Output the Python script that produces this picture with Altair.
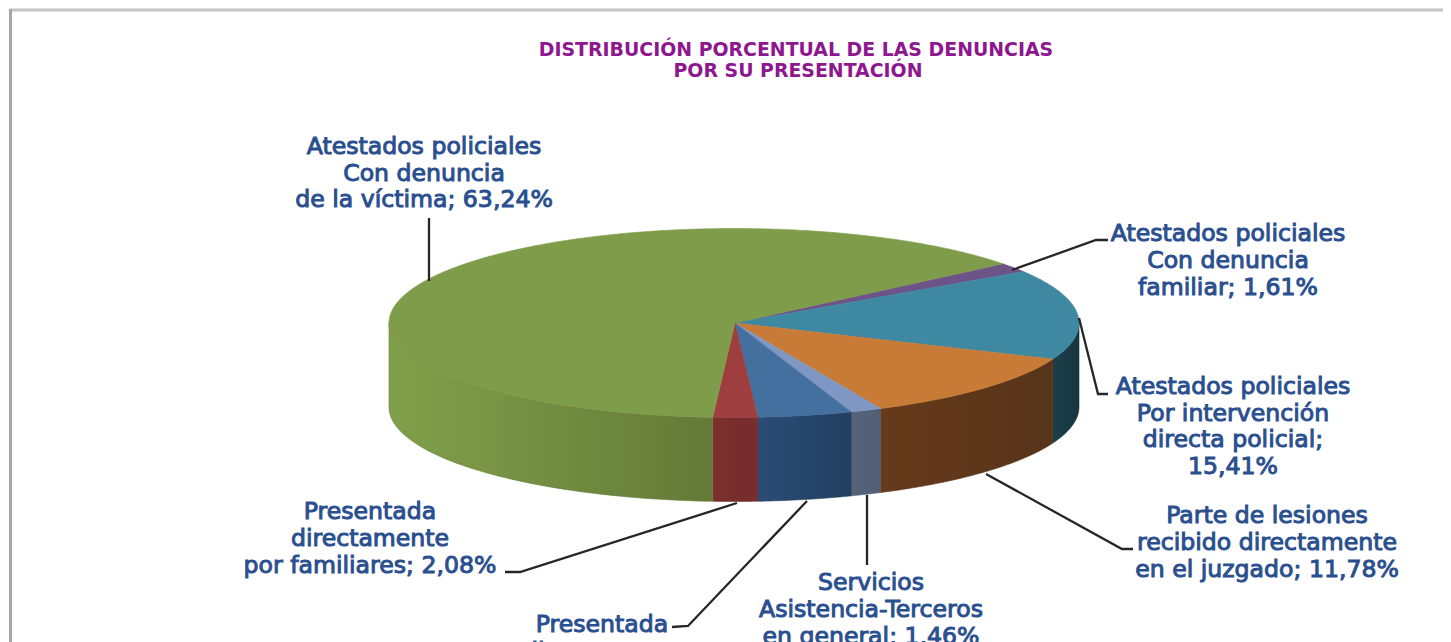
import numpy as np
import pandas as pd
import altair as alt

# Slices clockwise, starting at the top-right edge of the green slice
names = ["Familiar", "Intervencion", "Lesiones", "Terceros", "Victima directa", "Familiares directa", "Victima"]
shares = [1.61, 15.41, 11.78, 1.46, 4.42, 2.08, 63.24]
top_colors = ["#6E5388", "#3E89A1", "#C87B36", "#7F98C3", "#44709F", "#9E3E3E", "#7F9C4A"]
side_left = ["#4A3660", "#1C3F4C", "#663A1A", "#566379", "#2B4C75", "#7C2E2E", "#81A04A"]
side_right = ["#4A3660", "#17363F", "#57341A", "#525E75", "#223F60", "#752D2D", "#647A38"]

start_angle = 38.8
cx, cy, rx, ry, depth = 734.0, 323.0, 345.0, 94.5, 84.0

label_texts = [
    "Atestados policiales", "Con denuncia", "de la víctima; 63,24%",
    "Atestados policiales", "Con denuncia", "familiar; 1,61%",
    "Atestados policiales", "Por intervención", "directa policial;", "15,41%",
    "Parte de lesiones", "recibido directamente", "en el juzgado; 11,78%",
    "Servicios", "Asistencia-Terceros", "en general; 1,46%",
    "Presentada", "directamente", "por familiares; 2,08%",
    "Presentada", "directamente",
]
label_x = [424]*3 + [1228]*3 + [1233]*4 + [1267]*3 + [871]*3 + [370]*3 + [602]*2
label_y = [147, 174, 200, 234, 261, 288, 387, 414, 440, 467, 516, 543, 570,
           583, 610, 637, 512, 539, 566, 625, 652]

title_lines = ["DISTRIBUCIÓN PORCENTUAL DE LAS DENUNCIAS", "POR SU PRESENTACIÓN"]
title_x = [796, 798]
title_y = [50, 71]

leaders = [
    [(429, 218), (429, 281)],
    [(1012, 270), (1096, 240), (1108, 240)],
    [(1079, 318), (1098, 394), (1108, 394)],
    [(986, 474), (1122, 549), (1133, 549)],
    [(867, 495), (867, 565)],
    [(737, 503), (520, 572), (505, 572)],
    [(807, 501), (688, 626), (672, 627)],
]

W, H = 1435, 634
xs = alt.Scale(domain=[8, 8 + W], range=[0, W], nice=False, zero=False)
ys = alt.Scale(domain=[8, 8 + H], range=[0, H], nice=False, zero=False)
X = lambda f="x": alt.X(f"{f}:Q", scale=xs, axis=None)
Y = lambda f="y": alt.Y(f"{f}:Q", scale=ys, axis=None)


def ell(a, off=0.0):
    r = np.radians(a)
    return cx + rx * np.cos(r), cy - ry * np.sin(r) + off


def poly(points, fill, stroke):
    df = pd.DataFrame([{"x": float(p[0]), "y": float(p[1]), "i": i} for i, p in enumerate(points)])
    return alt.Chart(df).mark_line(fill=fill, stroke=stroke, strokeWidth=0.6).encode(
        x=X(), y=Y(), order=alt.Order("i:Q"))


edges = start_angle - np.cumsum([0] + [s * 3.6 for s in shares])
layers = []

# frame
frame = pd.DataFrame({"x": [10.5, 1443], "y": [10, 10]})
layers.append(alt.Chart(frame).mark_line(stroke="#C4C4C4", strokeWidth=3).encode(x=X(), y=Y()))
frame2 = pd.DataFrame({"x": [10.5, 10.5], "y": [9, 642]})
layers.append(alt.Chart(frame2).mark_line(stroke="#A6A6A6", strokeWidth=3).encode(x=X(), y=Y()))

# side walls
for k in range(len(shares)):
    a0, a1 = edges[k], edges[k + 1]
    lo, hi = max(a1, -180.0), min(a0, 0.0)
    if hi <= lo:
        continue
    aa = np.linspace(hi, lo, 60)
    pts = [ell(a) for a in aa] + [ell(a, depth) for a in aa[::-1]]
    pts.append(pts[0])
    grad = alt.LinearGradient(
        gradient="linear", x1=0, x2=1, y1=0, y2=0,
        stops=[alt.GradientStop(color=side_left[k], offset=0),
               alt.GradientStop(color=side_right[k], offset=1)])
    layers.append(poly(pts, grad, side_right[k]))

# top faces
for k in range(len(shares)):
    aa = np.linspace(edges[k], edges[k + 1], max(8, int(shares[k] * 6)))
    pts = [(cx + 1, cy)] + [ell(a) for a in aa] + [(cx + 1, cy)]
    layers.append(poly(pts, top_colors[k], top_colors[k]))

# leader lines
for pts in leaders:
    df = pd.DataFrame([{"x": p[0], "y": p[1], "i": i} for i, p in enumerate(pts)])
    layers.append(alt.Chart(df).mark_line(stroke="#262626", strokeWidth=2.3).encode(
        x=X(), y=Y(), order=alt.Order("i:Q")))

labels = pd.DataFrame({"t": label_texts, "x": label_x, "y": label_y})
layers.append(alt.Chart(labels).mark_text(
    font="DejaVu Sans", fontSize=23.6, color="#2A4F8F", stroke="#2A4F8F", strokeWidth=1.0,
    baseline="middle", align="center"
).encode(x=X(), y=Y(), text="t:N"))

titles = pd.DataFrame({"t": title_lines, "x": title_x, "y": title_y})
layers.append(alt.Chart(titles).mark_text(
    font="DejaVu Sans", fontSize=18.9, fontWeight="bold", color="#8E1790", baseline="middle", align="center"
).encode(x=X(), y=Y(), text="t:N"))

chart = alt.layer(*layers).properties(
    width=W, height=H, padding=0, background="white",
    autosize=alt.AutoSizeParams(type="none")
).configure_view(stroke=None)

chart.save("out.html", embed_options={"renderer": "svg", "actions": False})
